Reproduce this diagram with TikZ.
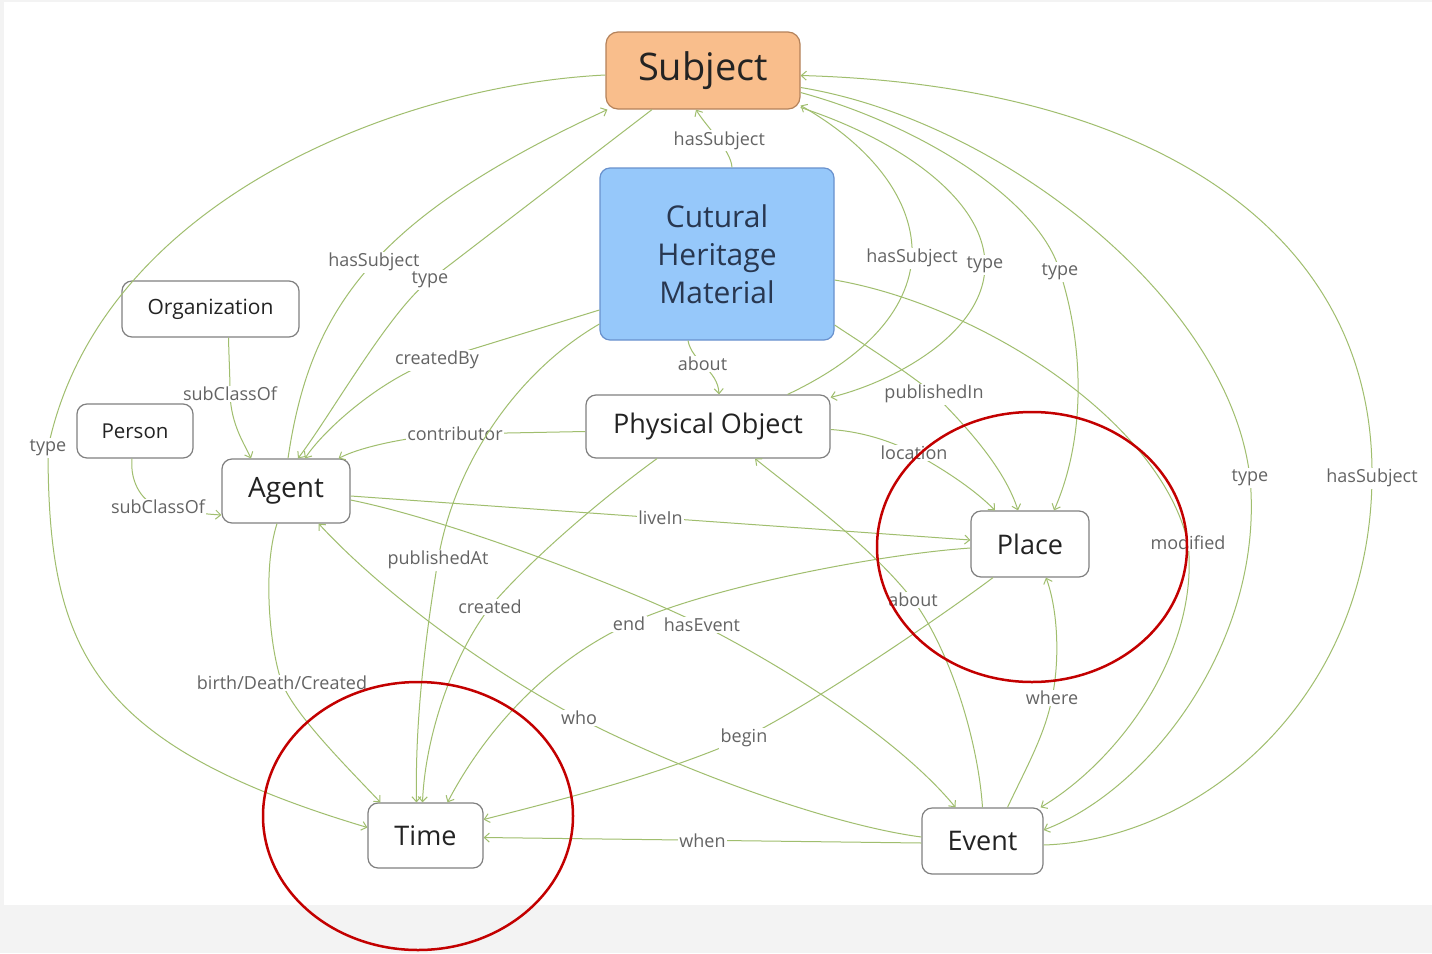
\documentclass[tikz,border=0pt]{standalone}
\usepackage{fontspec}
\setmainfont{Open Sans}
\usetikzlibrary{arrows.meta}
\definecolor{edgec}{RGB}{160,190,110}
\definecolor{boxline}{RGB}{128,128,128}
\definecolor{lbltext}{RGB}{100,100,100}
\definecolor{nodetext}{RGB}{35,35,35}
\definecolor{subjfill}{RGB}{249,190,140}
\definecolor{subjline}{RGB}{180,130,90}
\definecolor{chmfill}{RGB}{150,200,250}
\definecolor{chmline}{RGB}{105,145,205}
\definecolor{chmtext}{RGB}{40,55,80}
\definecolor{redc}{RGB}{195,0,0}
\definecolor{bandc}{RGB}{243,243,243}
\tikzset{
  box/.style={draw=boxline, line width=1.2pt, rounded corners=10pt, fill=white,
    text=nodetext, inner sep=0pt, align=center},
  lbl/.style={fill=white, inner sep=1.5pt, text=lbltext, font=\fontsize{18}{20}\selectfont},
  edge/.style={draw=edgec, line width=1pt, -{Straight Barb[length=5pt,width=9pt]}},
  ring/.style={draw=redc, line width=2.5pt},
}
\begin{document}
\begin{tikzpicture}[x=1pt,y=-1pt]
\useasboundingbox (0,0) rectangle (1432,953);
\fill[bandc] (0,0) rectangle (1432,953);
\fill[white] (4,2) rectangle (1432,905);

% nodes
\node[box, fill=subjfill, draw=subjline, rounded corners=12pt, minimum width=194pt, minimum height=77pt,
  font=\fontsize{38}{40}\selectfont] (Subject) at (703,70.5) {\raisebox{-3pt}{Subject}};
\node[box, fill=chmfill, draw=chmline, minimum width=234pt, minimum height=172pt, text=chmtext,
  font=\fontsize{30}{38}\selectfont] (CHM) at (717,254) {Cutural\\Heritage\\Material};
\node[box, minimum width=177pt, minimum height=56pt, font=\fontsize{21}{24}\selectfont] (Organization) at (210.5,309) {Organization};
\node[box, minimum width=116pt, minimum height=54pt, font=\fontsize{20.5}{24}\selectfont] (Person) at (135,431) {Person};
\node[box, minimum width=128pt, minimum height=64pt, font=\fontsize{28}{30}\selectfont] (Agent) at (286,491) {Agent};
\node[box, minimum width=244pt, minimum height=63pt, font=\fontsize{27}{30}\selectfont] (PhysObj) at (708,426.5) {Physical Object};
\node[box, minimum width=118pt, minimum height=66pt, font=\fontsize{27}{30}\selectfont] (Place) at (1030,544) {Place};
\node[box, minimum width=115pt, minimum height=65pt, font=\fontsize{27}{30}\selectfont] (Time) at (425.5,835.5) {Time};
\node[box, minimum width=121pt, minimum height=66pt, font=\fontsize{27}{30}\selectfont] (Event) at (982.5,841) {Event};

% edges
\draw[edge] ([yshift=-4.5pt]Subject.west) .. controls (400,85) and (100,200) .. (48,448) node[lbl]{type}
  .. controls (48,648) and (88,744) .. ([yshift=8pt]Time.west);
\draw[edge] ([xshift=2pt]Agent.north) .. controls (310,309) and (373,218) .. ([xshift=2pt]Subject.south west)
  node[lbl,pos=0.52]{hasSubject};
\draw[edge] ([xshift=-51pt]Subject.south) -- (430,280) node[lbl]{type}
  .. controls (390,310) and (331,415) .. ([xshift=12pt]Agent.north);
\draw[edge] ([xshift=15pt]CHM.north) .. controls (731,150) and (705,125) .. ([xshift=-7pt]Subject.south)
  node[lbl,pos=0.45]{hasSubject};
\draw[edge] ([yshift=-56pt]CHM.west) -- (437,360) node[lbl]{createdBy}
  .. controls (385,376) and (325,428) .. ([xshift=19pt]Agent.north);
\draw[edge] ([yshift=-5pt]PhysObj.west) -- (455,434) node[lbl]{contributor}
  .. controls (410,436) and (360,447) .. ([xshift=-12pt]Agent.north east);
\draw[edge] ([xshift=18pt]Organization.south) .. controls (229,360) and (230,375) .. (230,394) node[lbl]{subClassOf}
  .. controls (231,425) and (245,445) .. ([xshift=-35pt]Agent.north);
\draw[edge] ([xshift=-3pt]Person.south) .. controls (130,480) and (140,500) .. (158,507) node[lbl]{subClassOf}
  .. controls (185,512) and (205,514) .. ([yshift=-24pt]Agent.west);
\draw[edge] ([xshift=-9pt]Agent.south) .. controls (262,570) and (270,650) .. (282,683) node[lbl]{birth/Death/Created}
  .. controls (295,715) and (345,765) .. ([xshift=-45pt]Time.north);
\draw[edge] ([yshift=-70pt]CHM.west) .. controls (520,370) and (455,460) .. (438,560) node[lbl]{publishedAt}
  .. controls (425,640) and (415,720) .. ([xshift=-9pt]Time.north);
\draw[edge] ([xshift=-51pt]PhysObj.south) .. controls (600,500) and (530,560) .. (490,607) node[lbl]{created}
  .. controls (450,660) and (425,740) .. ([xshift=-3pt]Time.north);
\draw[edge] ([yshift=-4pt]Place.west) .. controls (870,555) and (700,590) .. (629,624) node[lbl]{end}
  .. controls (540,665) and (480,740) .. ([xshift=22pt]Time.north);
\draw[edge] ([xshift=-37pt]Place.south) .. controls (950,610) and (820,700) .. (744,738) node[lbl]{begin}
  .. controls (660,775) and (560,800) .. ([yshift=16pt]Time.east);
\draw[edge] ([yshift=-9pt]Agent.east) .. controls (450,520) and (620,585) .. (702,625) node[lbl]{hasEvent}
  .. controls (790,670) and (900,740) .. ([xshift=-27pt]Event.north);
\draw[edge] ([yshift=-5pt]Agent.east) -- ([yshift=4pt]Place.west) node[lbl,pos=0.5]{liveIn};
\draw[edge] ([yshift=4pt]Event.west) .. controls (830,825) and (680,770) .. (579,718) node[lbl]{who}
  .. controls (480,665) and (380,590) .. ([xshift=-32pt]Agent.south east);
\draw[edge] ([yshift=-2pt]Event.west) -- ([yshift=-2pt]Time.east) node[lbl,pos=0.5]{when};
\draw[edge] ([xshift=25pt]Event.north) .. controls (1025,770) and (1045,735) .. (1052,698) node[lbl]{where}
  .. controls (1060,660) and (1058,610) .. ([xshift=16pt]Place.south);
\draw[edge] (Event.north) .. controls (978,740) and (950,650) .. (913,600) node[lbl]{about}
  .. controls (870,545) and (800,495) .. ([xshift=47pt]PhysObj.south);
\draw[edge] ([xshift=-29pt]CHM.south) .. controls (692,362) and (718,370) .. ([xshift=11pt]PhysObj.north)
  node[lbl,pos=0.45]{about};
\draw[edge] ([yshift=-3pt]PhysObj.east) .. controls (855,431) and (885,438) .. (914,453) node[lbl]{location}
  .. controls (945,470) and (975,490) .. ([xshift=-35pt]Place.north);
\draw[edge] ([yshift=-71pt]CHM.east) .. controls (860,342) and (905,370) .. (934,394) node[lbl]{publishedIn}
  .. controls (970,430) and (1005,470) .. ([xshift=-12pt]Place.north);
\draw[edge] ([xshift=-43pt]PhysObj.north east) .. controls (850,365) and (907,320) .. (912,258) node[lbl]{hasSubject}
  .. controls (915,200) and (870,145) .. ([yshift=-35pt]Subject.east);
\draw[edge] ([yshift=-37pt]Subject.east) .. controls (900,140) and (985,200) .. (985,265) node[lbl]{type}
  .. controls (985,330) and (900,380) .. ([yshift=-3pt]PhysObj.north east);
\draw[edge] ([yshift=-22pt]Subject.east) .. controls (920,125) and (1040,200) .. (1060,272) node[lbl]{type}
  .. controls (1085,350) and (1085,440) .. ([xshift=24pt]Place.north);
\draw[edge] ([yshift=-26pt]CHM.east) .. controls (980,305) and (1160,420) .. (1188,543) node[lbl]{modified}
  .. controls (1200,650) and (1120,760) .. ([xshift=-3pt]Event.north east);
\draw[edge] ([yshift=-17pt]Subject.east) .. controls (1000,120) and (1230,300) .. (1250,478) node[lbl]{type}
  .. controls (1265,640) and (1150,790) .. ([yshift=11pt]Event.east);
\draw[edge] ([yshift=-4pt]Event.east) .. controls (1200,840) and (1370,700) .. (1372,478) node[lbl]{hasSubject}
  .. controls (1375,230) and (1150,85) .. ([yshift=-5pt]Subject.east);

% red annotation rings
\draw[ring] (1032,547) ellipse [x radius=155, y radius=135];
\draw[ring] (418,816) ellipse [x radius=155, y radius=134];
\end{tikzpicture}
\end{document}
